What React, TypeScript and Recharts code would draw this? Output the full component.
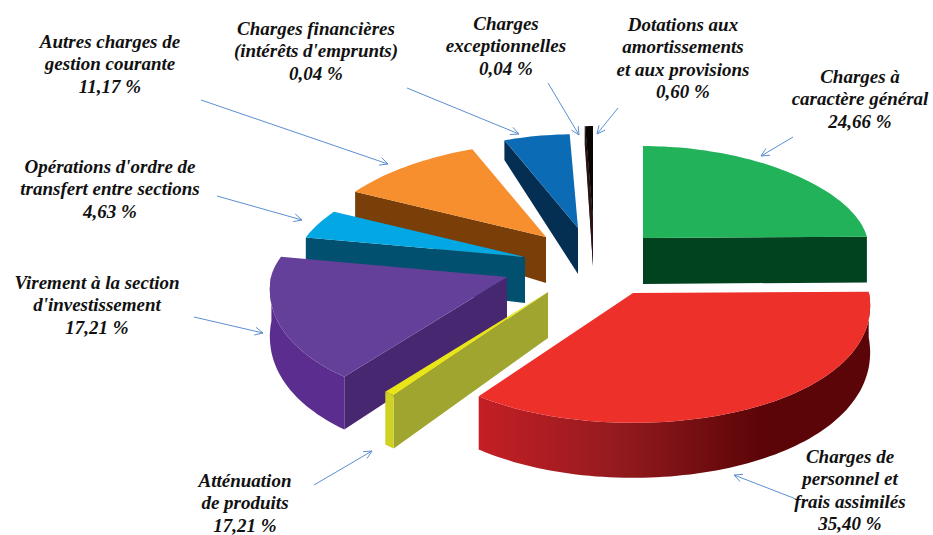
import React from "react";
import { PieChart, Pie } from "recharts";

// drawn shares follow the slices in the picture, printed shares follow its labels
const categories = [
  "Dotations",
  "Exceptionnelles",
  "Financieres",
  "Autres",
  "Operations",
  "Virement",
  "Attenuation",
  "Personnel",
  "General",
];
const drawnShares = [0.6, 0.04, 5.1, 11.17, 4.63, 17.21, 0.7, 35.4, 24.66];
const labelLines = [
  ["Dotations aux", "amortissements", "et aux provisions", "0,60 %"],
  ["Charges", "exceptionnelles", "0,04 %"],
  ["Charges financières", "(intérêts d'emprunts)", "0,04 %"],
  ["Autres charges de", "gestion courante", "11,17 %"],
  ["Opérations d'ordre de", "transfert entre sections", "4,63 %"],
  ["Virement à la section", "d'investissement", "17,21 %"],
  ["Atténuation", "de produits", "17,21 %"],
  ["Charges de", "personnel et", "frais assimilés", "35,40 %"],
  ["Charges à", "caractère général", "24,66 %"],
];

const pieData = categories.map((name, i) => ({ name, value: drawnShares[i] }));

const CX = 620;
const CY = 260;
const RADIUS = 236;
const BACK_TILT = 0.41;
const FRONT_TILT = 0.55;
const PERSPECTIVE = 0.1;

type Look = {
  dx: number;
  dy: number;
  scale: number;
  top: string;
  side: string;
  rim: string;
};

// one look per slice: explosion offset from the centre and colours
const looks: Look[] = [
  { dx: -27, dy: -40, scale: 0.97, top: "#0a0505", side: "#2a1414", rim: "#111" },
  { dx: -27, dy: -40, scale: 0.97, top: "#0a0505", side: "#2a1414", rim: "#111" },
  { dx: -42, dy: -32, scale: 0.97, top: "#0b6cb5", side: "#052f52", rim: "#052f52" },
  { dx: -74, dy: -23, scale: 0.97, top: "#f78f2e", side: "#7a3e09", rim: "#7a3e09" },
  { dx: -95, dy: -3, scale: 0.97, top: "#02a7e3", side: "#02506f", rim: "#02506f" },
  { dx: -113, dy: 17, scale: 1.0, top: "#65409a", side: "#47276f", rim: "#5b2d8e" },
  { dx: -72, dy: 32, scale: 1.0, top: "#e8e619", side: "#a0a52f", rim: "#cfd124" },
  { dx: 13, dy: 33, scale: 1.0, top: "#ee302b", side: "#ee302b", rim: "url(#redWall)" },
  { dx: 23, dy: -22, scale: 0.95, top: "#21b25a", side: "#01431f", rim: "#01431f" },
];

const arrows = [
  [618, 108, 597, 134],
  [548, 83, 579, 135],
  [407, 88, 519, 134],
  [201, 100, 388, 164],
  [217, 196, 302, 220],
  [194, 317, 263, 333],
  [314, 485, 372, 451],
  [796, 499, 734, 475],
  [793, 137, 761, 156],
];
const labelAnchors = [
  [683, 31],
  [506, 30],
  [316, 35],
  [110, 48],
  [110, 173],
  [97, 289],
  [245, 487],
  [850, 463],
  [860, 83],
];

const rad = (deg: number) => (deg * Math.PI) / 180;
const toPath = (pts: number[][]) =>
  "M" + pts.map((p) => `${p[0].toFixed(1)},${p[1].toFixed(1)}`).join("L") + "Z";

// tilted, slightly perspective pie: the front half is drawn larger than the back
const wallHeight = (y: number) => (y < 0 ? 46 + 28 * y : 46 + 9 * y);

const SliceShape = (props: any) => {
  const { cx, cy, outerRadius, startAngle, endAngle, index } = props;
  const look = looks[index];
  const ax = cx + look.dx;
  const ay = cy + look.dy;
  const r = outerRadius * look.scale;

  // recharts angles run counter-clockwise from 3 o'clock, here clockwise from the top
  const a = (90 - Math.max(startAngle, endAngle) + 720) % 360;
  const b = a + Math.abs(endAngle - startAngle);

  const project = (theta: number, drop: boolean) => {
    const X = Math.sin(rad(theta));
    const Y = -Math.cos(rad(theta));
    const sy = Y > 0 ? FRONT_TILT : BACK_TILT;
    return [ax + r * X * (1 + PERSPECTIVE * Y), ay + r * sy * Y + (drop ? wallHeight(Y) : 0)];
  };

  const thetas: number[] = [];
  for (let t = a; t < b; t += 1.5) thetas.push(t);
  thetas.push(b);

  const apex = [ax, ay];
  const apexLow = [ax, ay + wallHeight(0)];
  const topFace = [apex, ...thetas.map((t) => project(t, false))];

  const walls: { d: string; fill: string }[] = [];
  if (Math.sin(rad(a)) < 0) {
    walls.push({ d: toPath([apex, project(a, false), project(a, true), apexLow]), fill: look.side });
  }
  if (Math.sin(rad(b)) > 0) {
    walls.push({ d: toPath([apex, project(b, false), project(b, true), apexLow]), fill: look.side });
  }
  const front = thetas.filter((t) => -Math.cos(rad(t)) > -0.02);
  if (front.length > 1) {
    const upper = front.map((t) => project(t, false));
    const lower = front.map((t) => project(t, true)).reverse();
    walls.push({ d: toPath([...upper, ...lower]), fill: look.rim });
  }

  return (
    <g style={{ filter: "blur(0.6px)" }}>
      <defs>
        <linearGradient id="redWall" gradientUnits="userSpaceOnUse" x1="478" y1="0" x2="760" y2="0">
          <stop offset="0" stopColor="#c41f25" />
          <stop offset="0.5" stopColor="#931a1e" />
          <stop offset="1" stopColor="#5c0508" />
        </linearGradient>
      </defs>
      {walls.map((w, i) => (
        <path key={i} d={w.d} fill={w.fill} />
      ))}
      <path d={toPath(topFace)} fill={look.top} />
    </g>
  );
};

const SliceLabel = (props: any) => {
  const { index } = props;
  const [x1, y1, x2, y2] = arrows[index];
  const [lx, ly] = labelAnchors[index];
  const angle = Math.atan2(y2 - y1, x2 - x1);
  const head = 9;
  const wing = (sign: number) => [
    x2 - head * Math.cos(angle + sign * 0.45),
    y2 - head * Math.sin(angle + sign * 0.45),
  ];
  const [wx1, wy1] = wing(1);
  const [wx2, wy2] = wing(-1);
  return (
    <g>
      <path
        d={`M${x1},${y1}L${x2},${y2}M${wx1},${wy1}L${x2},${y2}L${wx2},${wy2}`}
        fill="none"
        stroke="#5b8fd0"
        strokeWidth={1}
      />
      <text
        textAnchor="middle"
        fontFamily="'Liberation Serif', serif"
        fontStyle="italic"
        fontWeight="bold"
        fontSize={19}
        fill="#111"
      >
        {labelLines[index].map((line, i) => (
          <tspan key={i} x={lx} y={ly + i * 22.4}>
            {line}
          </tspan>
        ))}
      </text>
    </g>
  );
};

export default function App() {
  return (
    <div style={{ position: "absolute", left: 0, top: 0, width: 933, height: 535, background: "#fff" }}>
      <PieChart width={933} height={535} margin={{ top: 0, right: 0, bottom: 0, left: 0 }}>
        <Pie
          data={pieData}
          dataKey="value"
          nameKey="name"
          cx={CX}
          cy={CY}
          innerRadius={0}
          outerRadius={RADIUS}
          startAngle={90}
          endAngle={450}
          stroke="none"
          shape={SliceShape}
          label={SliceLabel}
          labelLine={false}
          isAnimationActive={false}
        />
      </PieChart>
    </div>
  );
}
